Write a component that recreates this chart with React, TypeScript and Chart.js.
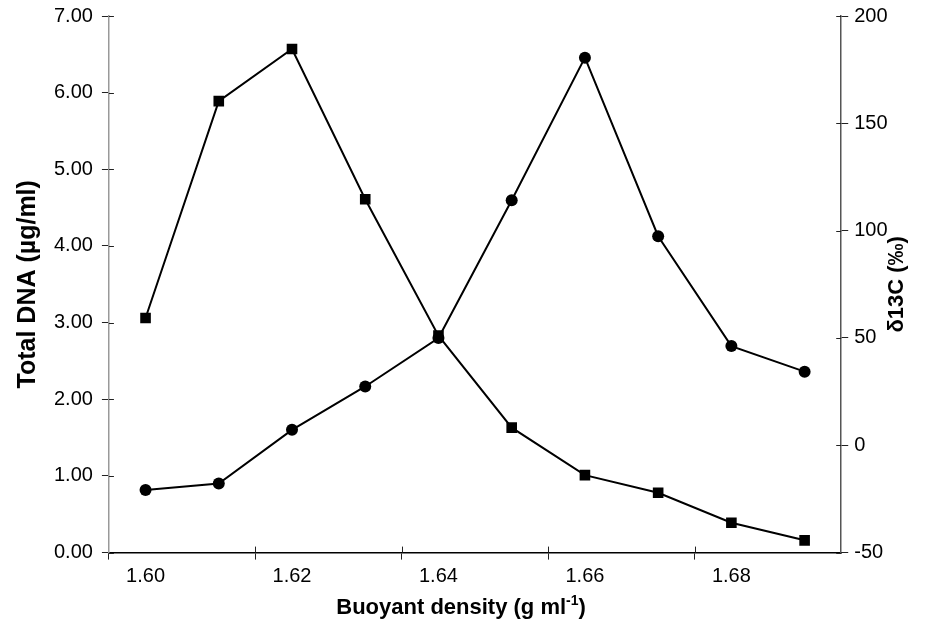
import React, { useEffect, useRef } from "react";
import { Chart, registerables } from "chart.js";

Chart.register(...registerables);

const densities = ["1.60", "1.61", "1.62", "1.63", "1.64", "1.65", "1.66", "1.67", "1.68", "1.69"];
const totalDNA = [3.06, 5.89, 6.57, 4.61, 2.83, 1.63, 1.01, 0.78, 0.39, 0.16];
const delta13C = [-20.8, -17.8, 7.2, 27.4, 50.0, 114.2, 180.6, 97.4, 46.2, 34.3];

const FONT = "'Liberation Sans', Arial, sans-serif";
const TITLE_SIZE = 22;
const LEFT_TITLE_SIZE = 25;
const TICK_SIZE = 20;
const RIGHT_TITLE = "δ13C (‰)";
const X_TITLE_MAIN = "Buoyant density (g ml";
const X_TITLE_SUP = "-1";
const X_TITLE_END = ")";

const crossTicks = {
  id: "crossTicks",
  afterDraw(chart: any) {
    const ctx = chart.ctx;
    const x = chart.scales.x;
    const yl = chart.scales.y;
    const yr = chart.scales.y1;
    ctx.save();
    ctx.strokeStyle = "#222";
    ctx.lineWidth = 1;
    ctx.beginPath();
    yl.ticks.forEach((_: any, i: number) => {
      const p = Math.round(yl.getPixelForTick(i)) + 0.5;
      ctx.moveTo(x.left, p);
      ctx.lineTo(x.left + 5, p);
    });
    yr.ticks.forEach((_: any, i: number) => {
      const p = Math.round(yr.getPixelForTick(i)) + 0.5;
      ctx.moveTo(x.right - 5, p);
      ctx.lineTo(x.right, p);
    });
    const w = x.getPixelForTick(1) - x.getPixelForTick(0);
    for (let i = 2; i < densities.length; i += 2) {
      const p = Math.round(x.getPixelForTick(i) - w / 2) + 0.5;
      ctx.moveTo(p, yl.bottom);
      ctx.lineTo(p, yl.bottom - 6);
    }
    ctx.stroke();

    ctx.fillStyle = "#000";
    ctx.textBaseline = "alphabetic";

    // x axis title with superscript
    const boldFont = `bold ${TITLE_SIZE}px ${FONT}`;
    const supFont = `bold ${Math.round(TITLE_SIZE * 0.62)}px ${FONT}`;
    ctx.font = boldFont;
    const wMain = ctx.measureText(X_TITLE_MAIN).width;
    const wEnd = ctx.measureText(X_TITLE_END).width;
    ctx.font = supFont;
    const wSup = ctx.measureText(X_TITLE_SUP).width;
    const total = wMain + wSup + wEnd;
    const centerX = (x.left + x.right) / 2 - 14;
    const baseY = x.bottom - 8;
    let sx = centerX - total / 2;
    ctx.textAlign = "left";
    ctx.font = boldFont;
    ctx.fillText(X_TITLE_MAIN, sx, baseY);
    sx += wMain;
    ctx.font = supFont;
    ctx.fillText(X_TITLE_SUP, sx, baseY - TITLE_SIZE * 0.42);
    sx += wSup;
    ctx.font = boldFont;
    ctx.fillText(X_TITLE_END, sx, baseY);

    // right axis title, reading bottom to top
    const cx = yr.left + 56;
    const cy = (yr.top + yr.bottom) / 2;
    ctx.translate(cx, cy);
    ctx.rotate(-Math.PI / 2);
    ctx.font = boldFont;
    ctx.textAlign = "center";
    ctx.textBaseline = "middle";
    ctx.fillText(RIGHT_TITLE, 0, 0);
    ctx.restore();
  },
};

export default function App() {
  const ref = useRef<HTMLCanvasElement | null>(null);

  useEffect(() => {
    if (!ref.current) return;
    const chart = new Chart(ref.current, {
      type: "line",
      data: {
        labels: densities,
        datasets: [
          {
            label: "Total DNA",
            data: totalDNA,
            yAxisID: "y",
            borderColor: "#000",
            backgroundColor: "#000",
            borderWidth: 2,
            pointStyle: "rect",
            pointRadius: 7.5,
            pointBorderWidth: 0,
            tension: 0,
          },
          {
            label: "δ13C",
            data: delta13C,
            yAxisID: "y1",
            borderColor: "#000",
            backgroundColor: "#000",
            borderWidth: 2,
            pointStyle: "circle",
            pointRadius: 6,
            pointBorderWidth: 0,
            tension: 0,
          },
        ],
      },
      options: {
        animation: false,
        responsive: true,
        maintainAspectRatio: false,
        layout: { padding: { left: 1, right: 0, top: 0, bottom: 0 } },
        plugins: {
          legend: { display: false },
          tooltip: { enabled: false },
        },
        scales: {
          x: {
            type: "category",
            offset: true,
            border: { color: "#000", width: 1.5 },
            grid: {
              offset: true,
              drawOnChartArea: false,
              drawTicks: true,
              tickLength: 7,
              tickColor: (c: any) => (c.index % 2 === 0 ? "#222" : "rgba(0,0,0,0)"),
            },
            ticks: {
              autoSkip: false,
              maxRotation: 0,
              color: "#000",
              padding: 5,
              font: { family: FONT, size: TICK_SIZE },
              callback: (_v: any, i: number) => (i % 2 === 0 ? densities[i] : ""),
            },
            title: {
              display: true,
              text: X_TITLE_MAIN + X_TITLE_SUP + X_TITLE_END,
              color: "rgba(0,0,0,0)",
              font: { family: FONT, size: TITLE_SIZE, weight: "bold" },
              padding: { top: 2, bottom: 0 },
            },
          },
          y: {
            position: "left",
            min: 0,
            max: 7,
            border: { color: "#999", width: 1.5 },
            grid: { drawOnChartArea: false, tickLength: 7, tickColor: "#222" },
            ticks: {
              stepSize: 1,
              color: "#000",
              padding: 9,
              font: { family: FONT, size: TICK_SIZE },
              callback: (v: any) => Number(v).toFixed(2),
            },
            title: {
              display: true,
              text: "Total DNA (µg/ml)",
              color: "#000",
              font: { family: FONT, size: LEFT_TITLE_SIZE, weight: "bold" },
              padding: { top: 0, bottom: 2 },
            },
          },
          y1: {
            position: "right",
            min: -50,
            max: 200,
            border: { color: "#555", width: 1.5 },
            grid: { drawOnChartArea: false, tickLength: 7, tickColor: "#222" },
            ticks: {
              stepSize: 50,
              color: "#000",
              padding: 6,
              font: { family: FONT, size: TICK_SIZE },
            },
            title: {
              display: true,
              text: RIGHT_TITLE,
              color: "rgba(0,0,0,0)",
              font: { family: FONT, size: TITLE_SIZE, weight: "bold" },
              padding: { top: 4, bottom: 2 },
            },
          },
        },
      },
      plugins: [crossTicks],
    });
    return () => chart.destroy();
  }, []);

  return (
    <div style={{ width: 914, height: 627, marginTop: -13, marginLeft: 4, position: "relative" }}>
      <canvas ref={ref} />
    </div>
  );
}
